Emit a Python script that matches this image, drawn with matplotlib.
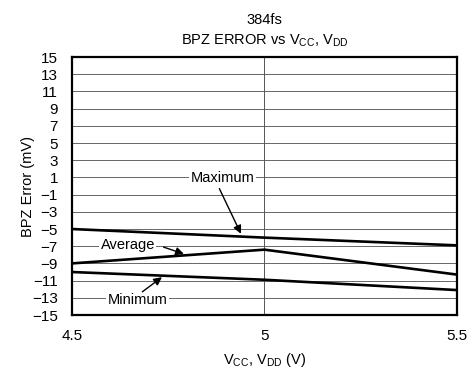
import numpy as np
import matplotlib
matplotlib.use('Agg')
import matplotlib.pyplot as plt

plt.rcParams['font.family'] = ['Liberation Sans', 'DejaVu Sans']

# supply voltage (V) and BPZ error (mV)
vcc = [4.5, 5.0, 5.5]
err_max = [-5.0, -6.0, -6.9]
err_avg = [-9.0, -7.4, -10.3]
err_min = [-10.0, -10.9, -12.1]

y_ticks = list(range(15, -16, -2))
x_ticks = [4.5, 5, 5.5]
x_tick_labels = ['4.5', '5', '5.5']

fig = plt.figure(figsize=(4.76, 3.68), dpi=100)
ax = fig.add_axes([0.151, 0.144, 0.809, 0.701])

ax.set_xlim(4.5, 5.5)
ax.set_ylim(-15, 15)
ax.set_yticks(y_ticks)
ax.set_xticks(x_ticks)
ax.set_xticklabels(x_tick_labels)
ax.tick_params(length=0, labelsize=11)
ax.tick_params(axis='y', pad=10)
ax.tick_params(axis='x', pad=10)

for yv in y_ticks:
    ax.axhline(yv, color='#666666', lw=0.7, zorder=1)
ax.axvline(5.0, color='#555555', lw=0.7, zorder=1)

for s in ax.spines.values():
    s.set_linewidth(1.6)

for ys in (err_max, err_avg, err_min):
    ax.plot(vcc, ys, color='black', lw=1.9, zorder=3)

box = dict(facecolor='white', edgecolor='none', pad=1)
arrow = dict(arrowstyle='-|>', color='black', lw=1.0, mutation_scale=12,
             shrinkA=0, shrinkB=0)

ax.text(4.892, 0.93, 'Maximum', ha='center', va='center', fontsize=10.5, bbox=box, zorder=4)
ax.annotate('', xy=(4.939, -5.55), xytext=(4.883, -0.3), arrowprops=arrow, zorder=4)

ax.text(4.645, -6.86, 'Average', ha='center', va='center', fontsize=10.5, bbox=box, zorder=4)
ax.annotate('', xy=(4.791, -7.9), xytext=(4.738, -7.1), arrowprops=arrow, zorder=4)

ax.text(4.671, -13.26, 'Minimum', ha='center', va='center', fontsize=10.5, bbox=box, zorder=4)
ax.annotate('', xy=(4.734, -10.6), xytext=(4.683, -12.3), arrowprops=arrow, zorder=4)

ax.set_ylabel('BPZ Error (mV)', fontsize=10.5)
ax.yaxis.set_label_coords(-0.097, 0.5)
ax.set_xlabel('V$_{\\mathregular{CC}}$, V$_{\\mathregular{DD}}$ (V)', fontsize=10.5, labelpad=6)
ax.set_title('384fs\nBPZ ERROR vs V$_{\\mathregular{CC}}$, V$_{\\mathregular{DD}}$',
             fontsize=10.5, linespacing=1.5, pad=9)

fig.savefig('out.png', dpi=100)
